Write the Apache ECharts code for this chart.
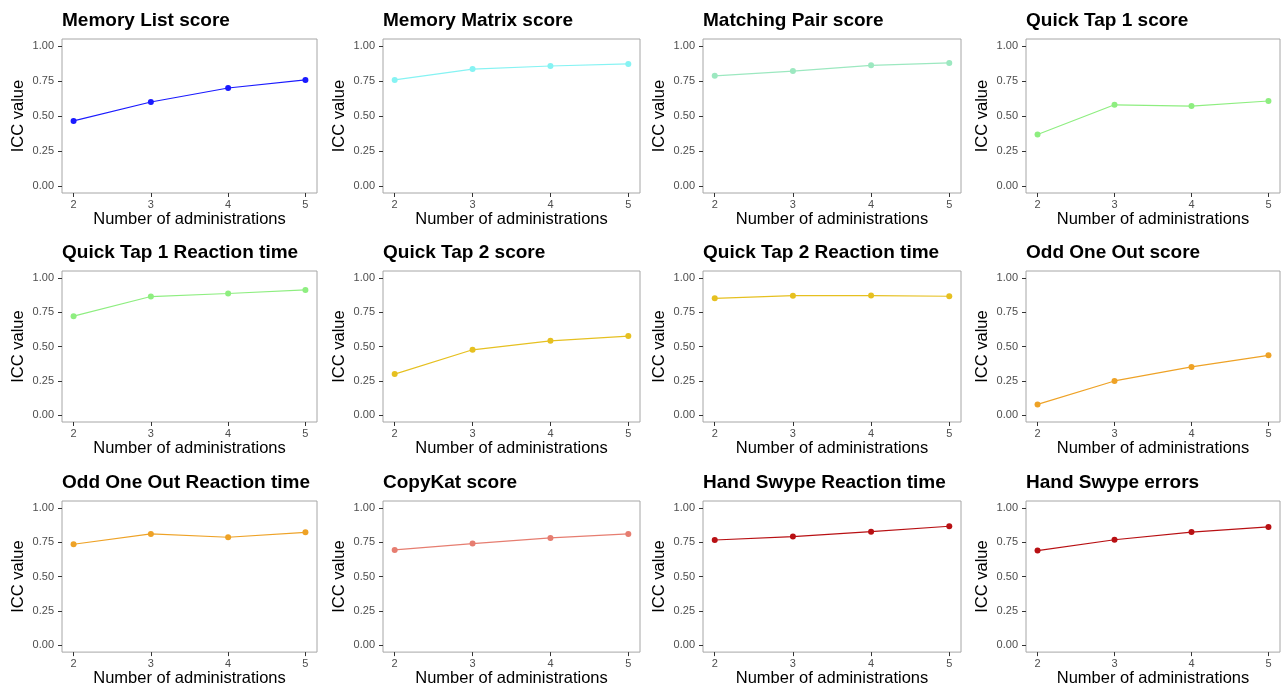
<!DOCTYPE html>
<html>
<head>
<meta charset="utf-8">
<script src="https://cdn.jsdelivr.net/npm/echarts@6/dist/echarts.min.js"></script>
<style>
  html, body { margin: 0; padding: 0; background: #fff; }
  #chart { width: 1282px; height: 688px; }
</style>
</head>
<body>
<div id="chart"></div>
<script>
// x values shared by every panel
const administrations = [2, 3, 4, 5];
const yTicks = [0, 0.25, 0.5, 0.75, 1];

// ICC values
const memoryListScore = [0.465, 0.600, 0.700, 0.758];
const memoryMatrixScore = [0.758, 0.835, 0.857, 0.872];
const matchingPairScore = [0.787, 0.821, 0.862, 0.879];
const quickTap1Score = [0.368, 0.580, 0.571, 0.607];
const quickTap1Reaction = [0.721, 0.864, 0.886, 0.912];
const quickTap2Score = [0.299, 0.476, 0.541, 0.576];
const quickTap2Reaction = [0.851, 0.870, 0.871, 0.866];
const oddOneOutScore = [0.078, 0.249, 0.351, 0.436];
const oddOneOutReaction = [0.735, 0.810, 0.786, 0.822];
const copyKatScore = [0.694, 0.740, 0.781, 0.810];
const handSwypeReaction = [0.766, 0.791, 0.827, 0.866];
const handSwypeErrors = [0.689, 0.768, 0.824, 0.861];

const panels = [
  {title: 'Memory List score', values: memoryListScore, color: '#1a1aff'},
  {title: 'Memory Matrix score', values: memoryMatrixScore, color: '#86f3f3'},
  {title: 'Matching Pair score', values: matchingPairScore, color: '#9ce8c0'},
  {title: 'Quick Tap 1 score', values: quickTap1Score, color: '#8eee80'},
  {title: 'Quick Tap 1 Reaction time', values: quickTap1Reaction, color: '#8eee80'},
  {title: 'Quick Tap 2 score', values: quickTap2Score, color: '#e6c020'},
  {title: 'Quick Tap 2 Reaction time', values: quickTap2Reaction, color: '#e6c020'},
  {title: 'Odd One Out score', values: oddOneOutScore, color: '#eea226'},
  {title: 'Odd One Out Reaction time', values: oddOneOutReaction, color: '#eea226'},
  {title: 'CopyKat score', values: copyKatScore, color: '#e67d70'},
  {title: 'Hand Swype Reaction time', values: handSwypeReaction, color: '#b81013'},
  {title: 'Hand Swype errors', values: handSwypeErrors, color: '#b81013'}
];

const font = 'Liberation Sans';
const colLeft = [62, 383, 703, 1026];
const colWidth = [255, 257, 258, 254];
const rowTop = [39, 271, 501];
const rowHeight = [154, 151, 152];

let titles = [], grids = [], xAxes = [], yAxes = [], series = [];

panels.forEach((p, i) => {
  const col = i % 4;
  const row = Math.floor(i / 4);
  titles.push({
    text: p.title,
    left: colLeft[col],
    top: rowTop[row] - 28,
    padding: 0,
    textStyle: {fontFamily: font, fontSize: 19, fontWeight: 'bold', color: '#000'}
  });
  grids.push({
    left: colLeft[col],
    top: rowTop[row],
    width: colWidth[col],
    height: rowHeight[row],
    show: true,
    borderColor: '#a6a6a6',
    borderWidth: 1,
    backgroundColor: 'transparent'
  });
  xAxes.push({
    type: 'value',
    gridIndex: i,
    min: 1.85,
    max: 5.15,
    name: 'Number of administrations',
    nameLocation: 'middle',
    nameGap: 15,
    nameTextStyle: {fontFamily: font, fontSize: 16.5, color: '#000'},
    axisLine: {show: false, onZero: false},
    splitLine: {show: false},
    axisTick: {show: true, length: 4, customValues: administrations, lineStyle: {color: '#333'}},
    axisLabel: {margin: 6, customValues: administrations, fontFamily: font, fontSize: 11, color: '#4d4d4d'}
  });
  yAxes.push({
    type: 'value',
    gridIndex: i,
    min: -0.05,
    max: 1.05,
    name: 'ICC value',
    nameLocation: 'middle',
    nameGap: 35,
    nameTextStyle: {fontFamily: font, fontSize: 16.5, color: '#000'},
    axisLine: {show: false, onZero: false},
    splitLine: {show: false},
    axisTick: {show: true, length: 4, customValues: yTicks, lineStyle: {color: '#333'}},
    axisLabel: {
      margin: 8,
      customValues: yTicks,
      fontFamily: font,
      fontSize: 11,
      color: '#4d4d4d',
      formatter: v => v.toFixed(2)
    }
  });
  series.push({
    type: 'line',
    xAxisIndex: i,
    yAxisIndex: i,
    data: administrations.map((x, k) => [x, p.values[k]]),
    symbol: 'circle',
    symbolSize: 6,
    color: p.color,
    lineStyle: {width: 1.2, color: p.color},
    itemStyle: {color: p.color},
    silent: true
  });
});

const chart = echarts.init(document.getElementById('chart'), null, {renderer: 'canvas'});
chart.setOption({
  animation: false,
  title: titles,
  grid: grids,
  xAxis: xAxes,
  yAxis: yAxes,
  series: series
});
</script>
</body>
</html>
